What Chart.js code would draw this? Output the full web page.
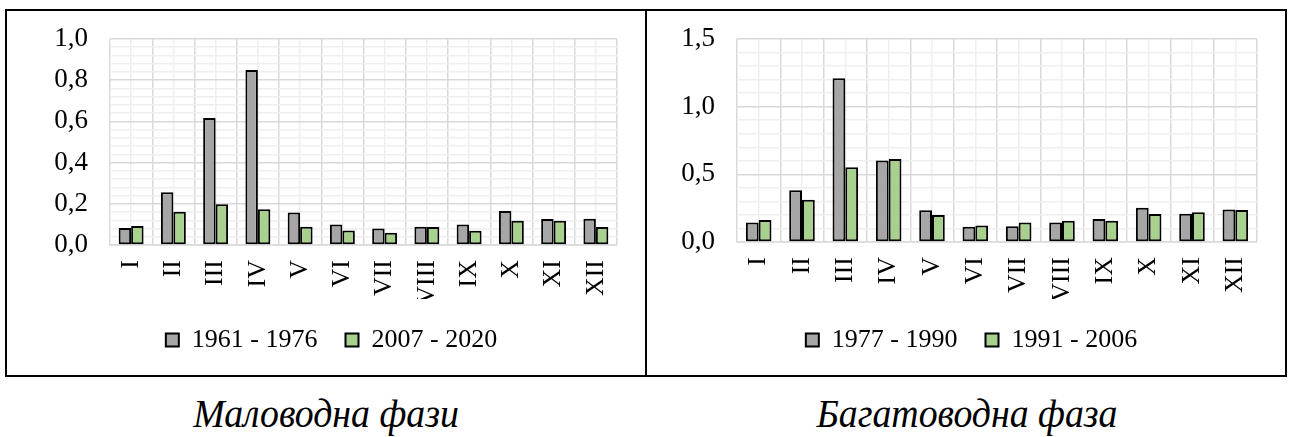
<!DOCTYPE html>
<html>
<head>
<meta charset="utf-8">
<script src="https://cdn.jsdelivr.net/npm/chart.js@4.4.1/dist/chart.umd.min.js"></script>
<style>
  html, body { margin: 0; padding: 0; background: #fff; width: 1291px; height: 437px; overflow: hidden; }
  .panel { position: absolute; top: 9px; width: 642px; height: 368px; border: 2px solid #000; box-sizing: border-box; }
  .panel canvas { position: absolute; left: 0; top: 0; }
  .caption { position: absolute; top: 394px; width: 400px; text-align: center;
             font: italic 40px "Liberation Serif", serif; line-height: 40px; color: #000;
             transform: scaleX(0.945); }
</style>
</head>
<body>
<div class="panel" style="left:5px"><canvas id="low" width="638" height="364"></canvas></div>
<div class="panel" style="left:645px"><canvas id="high" width="638" height="364"></canvas></div>
<div class="caption" style="left:126px">Маловодна фази</div>
<div class="caption" style="left:767px">Багатоводна фаза</div>
<script>
// Months in Roman numerals
const months = ['I', 'II', 'III', 'IV', 'V', 'VI', 'VII', 'VIII', 'IX', 'X', 'XI', 'XII'];

// Low-water phase
const lowPeriods = ['1961 - 1976', '2007 - 2020'];
const low1961_1976 = [0.083, 0.256, 0.616, 0.85, 0.158, 0.10, 0.08, 0.088, 0.10, 0.165, 0.126, 0.127];
const low2007_2020 = [0.092, 0.162, 0.198, 0.173, 0.088, 0.07, 0.059, 0.087, 0.069, 0.118, 0.118, 0.087];

// High-water phase
const highPeriods = ['1977 - 1990', '1991 - 2006'];
const high1977_1990 = [0.144, 0.383, 1.21, 0.603, 0.234, 0.112, 0.117, 0.144, 0.17, 0.254, 0.209, 0.241];
const high1991_2006 = [0.162, 0.312, 0.553, 0.613, 0.2, 0.122, 0.144, 0.157, 0.157, 0.207, 0.219, 0.237];

const FONT = { family: 'Liberation Serif', size: 26 };
const Y_FONT = { family: 'Liberation Serif', size: 27 };
const GREY = '#a6a6a6';
const GREEN = '#a9d18e';
const MAJOR_GRID = '#d9d9d9';
const MINOR_GRID = '#efefef';

const fmt = v => v.toFixed(1).replace('.', ',');

function buildChart(canvasId, labels, series, yMax, majorStep, minorStep, yWidth, xHeight) {
  const isMajor = v => Math.abs(v / majorStep - Math.round(v / majorStep)) < 1e-6;
  const bar = (label, data, color) => ({
    label, data, backgroundColor: color, borderColor: '#000',
    borderWidth: 2, borderSkipped: false,
    categoryPercentage: 0.59, barPercentage: 1
  });
  return new Chart(document.getElementById(canvasId), {
    type: 'bar',
    data: {
      labels: months,
      datasets: [bar(labels[0], series[0], GREY), bar(labels[1], series[1], GREEN)]
    },
    options: {
      responsive: false,
      animation: false,
      layout: { padding: { left: 11, right: 0, top: 28, bottom: 12 } },
      plugins: {
        tooltip: { enabled: false },
        legend: {
          position: 'bottom',
          labels: { font: FONT, color: '#000', boxWidth: 13, boxHeight: 13, padding: 28 }
        }
      },
      scales: {
        x: {
          grid: { offset: true, color: MAJOR_GRID, lineWidth: 1.5, drawTicks: false },
          border: { color: MAJOR_GRID, width: 1.5 },
          ticks: { font: FONT, color: '#000', minRotation: 90, maxRotation: 90, autoSkip: false, padding: 15 },
          afterFit: s => { s.height = xHeight; }
        },
        // lighter vertical lines through the middle of each month
        xMid: {
          type: 'category', position: 'bottom', offset: true,
          grid: { offset: false, color: MINOR_GRID, lineWidth: 1.5, drawTicks: false },
          border: { display: false },
          ticks: { display: false },
          afterFit: s => { s.height = 0; }
        },
        y: {
          min: 0, max: yMax,
          ticks: {
            stepSize: minorStep, autoSkip: false, font: Y_FONT, color: '#000', padding: 22,
            callback: v => isMajor(v) ? fmt(v) : ''
          },
          grid: {
            color: ctx => isMajor(ctx.tick.value) ? MAJOR_GRID : MINOR_GRID,
            lineWidth: 1.5, drawTicks: false
          },
          border: { display: false },
          // fixed axis width; the top label only needs half its height above the plot
          afterFit: s => { s.width = yWidth; s.paddingTop = 16; s.paddingBottom = 16; }
        },
        // empty right-hand margin of the plot
        yRight: {
          type: 'linear', position: 'right',
          grid: { display: false }, border: { display: false }, ticks: { display: false },
          afterFit: s => { s.width = 28; }
        }
      }
    }
  });
}

buildChart('low', lowPeriods, [low1961_1976, low2007_2020], 1.0, 0.2, 0.04, 92, 54);
buildChart('high', highPeriods, [high1977_1990, high1991_2006], 1.5, 0.5, 0.1, 79, 57);
</script>
</body>
</html>
